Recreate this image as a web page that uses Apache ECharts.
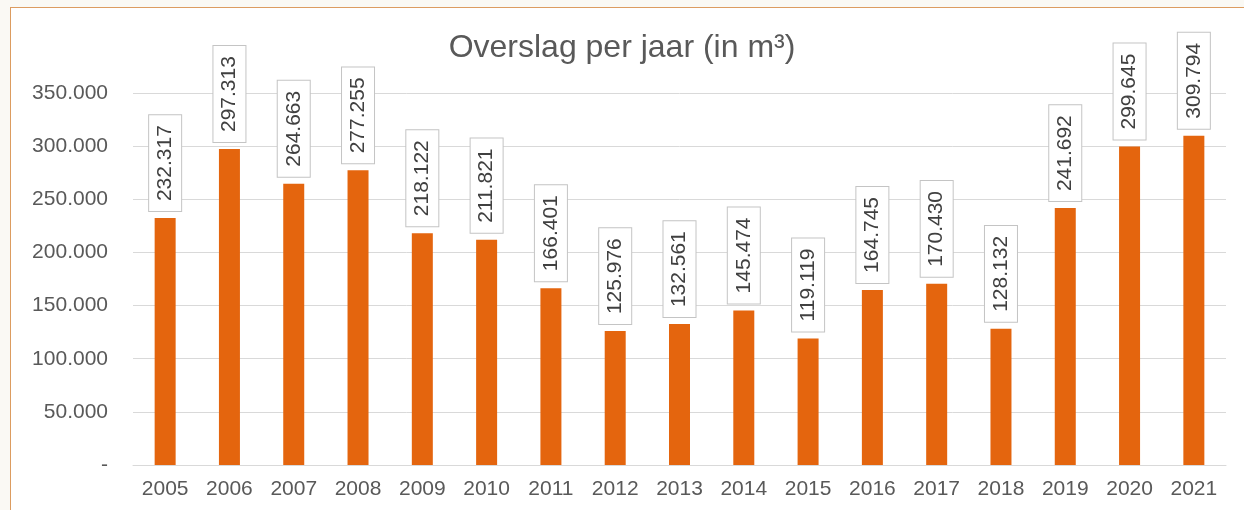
<!DOCTYPE html>
<html>
<head>
<meta charset="utf-8">
<script src="https://cdn.jsdelivr.net/npm/echarts@6/dist/echarts.min.js"></script>
<style>
  html, body { margin: 0; padding: 0; }
  body { width: 1244px; height: 510px; background: #faf9f4; position: relative; overflow: hidden; }
  #frame { position: absolute; left: 10px; top: 7px; width: 1300px; height: 600px;
           background: #ffffff; border-left: 1.5px solid #dc9c60; border-top: 1.5px solid #dc9c60; }
  #chart { position: absolute; left: 0; top: 0; width: 1244px; height: 510px; }
</style>
</head>
<body>
<div id="frame"></div>
<div id="chart"></div>
<script>
// Overslag per jaar, in m3
const years = ['2005', '2006', '2007', '2008', '2009', '2010', '2011', '2012', '2013',
               '2014', '2015', '2016', '2017', '2018', '2019', '2020', '2021'];
const overslag = [232317, 297313, 264663, 277255, 218122, 211821, 166401, 125976, 132561,
                  145474, 119119, 164745, 170430, 128132, 241692, 299645, 309794];
const yTicks = [0, 50000, 100000, 150000, 200000, 250000, 300000, 350000];

const FONT = "'Liberation Sans', Arial, sans-serif";
const GREY = '#595959';

// Dutch number notation: dot as thousands separator, dash for zero
function nl(v) {
  if (v === 0) return '-';
  return String(v).replace(/\B(?=(\d{3})+(?!\d))/g, '.');
}

const chart = echarts.init(document.getElementById('chart'), null, { renderer: 'canvas' });
chart.setOption({
  backgroundColor: 'transparent',
  animation: false,
  title: {
    text: 'Overslag per jaar (in m³)',
    left: 'center',
    top: 27,
    textStyle: { fontFamily: FONT, fontSize: 32, fontWeight: 'normal', color: GREY }
  },
  grid: { left: 133, right: 18, top: 93, bottom: 45, containLabel: false },
  xAxis: {
    type: 'category',
    data: years,
    axisLine: { show: true, lineStyle: { color: '#d9d9d9', width: 1 } },
    axisTick: { show: false },
    axisLabel: { color: GREY, fontFamily: FONT, fontSize: 21, margin: 14 }
  },
  yAxis: {
    type: 'value',
    min: yTicks[0],
    max: yTicks[yTicks.length - 1],
    interval: yTicks[1] - yTicks[0],
    axisLine: { show: false },
    axisTick: { show: false },
    splitLine: { lineStyle: { color: '#d9d9d9', width: 1 } },
    axisLabel: { color: GREY, fontFamily: FONT, fontSize: 21, margin: 25, formatter: nl }
  },
  series: [{
    type: 'bar',
    data: overslag,
    barWidth: 21,
    itemStyle: { color: '#e4650e' },
    label: {
      show: true,
      position: 'top',
      distance: 7,
      rotate: 90,
      align: 'left',
      verticalAlign: 'middle',
      formatter: p => nl(p.value),
      fontFamily: FONT,
      fontSize: 21,
      lineHeight: 22,
      color: '#404040',
      backgroundColor: '#ffffff',
      borderColor: '#c4c4c4',
      borderWidth: 1,
      padding: [5, 10]
    }
  }]
});
</script>
</body>
</html>
